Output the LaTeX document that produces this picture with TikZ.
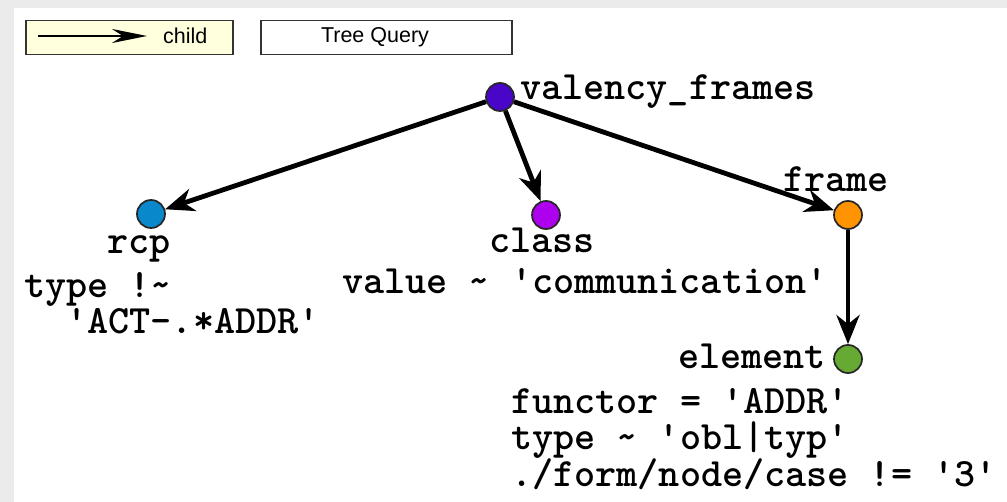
\documentclass[tikz,border=0pt]{standalone}
\usepackage{fontspec}
\setmainfont{Liberation Sans}
\usetikzlibrary{arrows.meta}

\definecolor{framegray}{HTML}{EBEBEB}
\definecolor{legyellow}{HTML}{FFFFDD}
\definecolor{cvalency}{HTML}{4A06C8}
\definecolor{crcp}{HTML}{0A88CC}
\definecolor{cclass}{HTML}{AC00EE}
\definecolor{cframe}{HTML}{FF9400}
\definecolor{celement}{HTML}{66AA33}

% bold typewriter face for node names and conditions, fixed line pitch
\newcommand\querycodefont{\ttfamily\bfseries\fontsize{40.2}{36.2}\selectfont
  \lineskiplimit=-100pt\relax}

\begin{document}
\begin{tikzpicture}[x=1pt,y=-1pt,
  vertex/.style={circle, draw=black!85, line width=1.7pt, minimum size=28pt, inner sep=0pt},
  edgearrow/.style={line width=4.8pt, -{Stealth[length=29pt,width=23pt,inset=9pt]}},
  legarrow/.style={line width=1.6pt, -{Stealth[length=35pt,width=14pt,inset=11pt]}},
  code/.style={font=\querycodefont, anchor=base west, inner sep=0pt},
  condblock/.style={code, align=left},
  legbox/.style={draw=black!80, line width=1.5pt, minimum height=34pt, inner sep=0pt},
  legtext/.style={font=\fontsize{21.5}{24}\selectfont, inner sep=0pt}]

% canvas with its grey frame on the top and left
\useasboundingbox (0,0) rectangle (1007,502);
\fill[framegray] (0,0) rectangle (1007,502);
\fill[white] (14,8) rectangle (1007,502);

% legend
\node[legbox, fill=legyellow, minimum width=207pt, anchor=north west] (legchild) at (25,20) {};
\coordinate (legA) at (38,36);
\coordinate (legB) at (147,36);
\draw[legarrow] (legA) -- (legB);
\node[legtext, anchor=west] (childtxt) at (163,36) {child};
\node[legbox, fill=white, minimum width=251pt, anchor=north west] (legquery) at (260,20) {};
\node[legtext] (querytxt) at (375,37) {Tree Query};

% tree nodes
\node[vertex, fill=cvalency] (vf) at (500,97) {};
\node[vertex, fill=crcp] (rcp) at (151,214) {};
\node[vertex, fill=cclass] (cls) at (546,215) {};
\node[vertex, fill=cframe] (frm) at (848,215) {};
\node[vertex, fill=celement] (elem) at (848,359) {};

% child edges
\draw[edgearrow] (vf) -- (rcp);
\draw[edgearrow] (vf) -- (cls);
\draw[edgearrow] (vf) -- (frm);
\draw[edgearrow] (frm) -- (elem);

% node names and their conditions (base = last line of a block)
\node[code] (vflab) at (520,100) {valency\_frames};
\node[code] (rcplab) at (107,254) {rcp};
\node[condblock] (rcpcond) at (24,334) {type !\textasciitilde\\\hphantom{xx}'ACT-.*ADDR'};
\node[code] (clslab) at (489,253) {class};
\node[code] (clscond) at (342,294) {value \textasciitilde{} 'communication'};
\node[code] (frmlab) at (783,192) {frame};
\node[code] (elemlab) at (678,369) {element};
\node[condblock] (elemcond) at (511,486) {functor = 'ADDR'\\type \textasciitilde{} 'obl|typ'\\./form/node/case != '3'};
\end{tikzpicture}
\end{document}
